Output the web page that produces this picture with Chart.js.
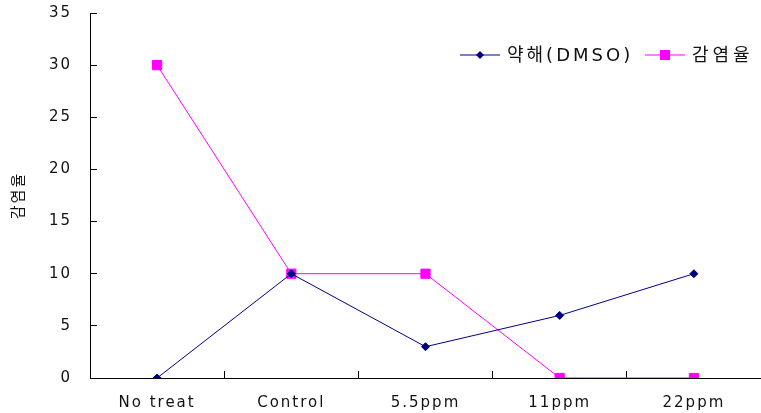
<!DOCTYPE html>
<html>
<head>
<meta charset="utf-8">
<script src="https://cdn.jsdelivr.net/npm/chart.js@4.4.0/dist/chart.umd.min.js"></script>
<style>
  html, body { margin: 0; padding: 0; background: #fff; }
  #wrap { width: 761px; height: 413px; }
</style>
</head>
<body>
<div id="wrap"><canvas id="myChart" width="761" height="413"></canvas></div>
<script>
const categories = ['No treat', 'Control', '5.5ppm', '11ppm', '22ppm'];
const dmsoValues = [0, 10, 3, 6, 10];
const infectionValues = [30, 10, 10, 0, 0];
const seriesNames = ['약해(DMSO)', '감염율'];
const yTitle = '감염율';

const FONT = "'DejaVu Sans', 'Noto Sans CJK KR', sans-serif";
const NAVY = '#000080';
const MAGENTA = '#ff00ff';

// wide letter spacing like the original gulim-style text
const spacingPlugin = {
    id: 'spacing',
    beforeLayout(chart) { chart.ctx.letterSpacing = '2px'; },
    beforeDraw(chart) { chart.ctx.letterSpacing = '2px'; }
};

// legend drawn inside the plot, top right, line + marker like the original
const legendPlugin = {
    id: 'innerLegend',
    afterDraw(chart) {
        const ctx = chart.ctx;
        const items = [
            { name: seriesNames[0], color: NAVY, style: 'rectRot', x: 460, tx: 507, sp: '3px' },
            { name: seriesNames[1], color: MAGENTA, style: 'rect', x: 645, tx: 692, sp: '4px' }
        ];
        const y = 55;
        ctx.save();
        items.forEach(it => {
            ctx.strokeStyle = it.color;
            ctx.lineWidth = 1;
            ctx.beginPath();
            ctx.moveTo(it.x, y);
            ctx.lineTo(it.x + 40, y);
            ctx.stroke();
            ctx.fillStyle = it.color;
            if (it.style === 'rect') {
                ctx.fillRect(it.x + 15, y - 5, 10, 10);
            } else {
                ctx.beginPath();
                ctx.moveTo(it.x + 20, y - 4);
                ctx.lineTo(it.x + 24, y);
                ctx.lineTo(it.x + 20, y + 4);
                ctx.lineTo(it.x + 16, y);
                ctx.closePath();
                ctx.fill();
            }
            ctx.letterSpacing = it.sp;
            ctx.fillStyle = '#111';
            ctx.font = '18px ' + FONT;
            ctx.textBaseline = 'middle';
            ctx.fillText(it.name, it.tx, y + 1);
        });
        ctx.restore();
    }
};

const ctx = document.getElementById('myChart').getContext('2d');
const chart = new Chart(ctx, {
    type: 'line',
    data: {
        labels: categories,
        datasets: [
            {
                label: seriesNames[0],
                data: dmsoValues,
                borderColor: NAVY,
                backgroundColor: NAVY,
                borderWidth: 1,
                pointStyle: 'rectRot',
                pointRadius: 4,
                pointHoverRadius: 4,
                tension: 0
            },
            {
                label: seriesNames[1],
                data: infectionValues,
                borderColor: MAGENTA,
                backgroundColor: MAGENTA,
                borderWidth: 1,
                pointStyle: 'rect',
                pointRadius: 6.5,
                pointHoverRadius: 6.5,
                tension: 0
            }
        ]
    },
    options: {
        responsive: false,
        animation: false,
        layout: {
            autoPadding: false,
            padding: { top: 13, right: 0, left: 0, bottom: 0 }
        },
        plugins: {
            legend: { display: false },
            tooltip: { enabled: false }
        },
        scales: {
            x: {
                offset: true,
                grid: {
                    offset: true,
                    drawOnChartArea: false,
                    color: '#000',
                    tickLength: -7
                },
                border: { color: '#000', width: 1 },
                ticks: {
                    color: '#111',
                    font: { family: FONT, size: 15 },
                    padding: 23,
                    maxRotation: 0
                },
                afterFit(scale) {
                    scale.height = 35;
                    scale.paddingLeft = 0;
                    scale.paddingRight = 0;
                }
            },
            y: {
                min: 0,
                max: 35,
                ticks: {
                    stepSize: 5,
                    color: '#111',
                    font: { family: FONT, size: 15 },
                    padding: 25
                },
                grid: {
                    drawOnChartArea: false,
                    color: '#000',
                    tickLength: -7
                },
                border: { color: '#000', width: 1 },
                title: {
                    display: true,
                    text: yTitle,
                    color: '#111',
                    font: { family: FONT, size: 15 },
                    padding: { top: 10, bottom: 0 }
                },
                afterFit(scale) {
                    scale.width = 90;
                    scale.paddingTop = 0;
                    scale.paddingBottom = 0;
                }
            }
        }
    },
    plugins: [spacingPlugin, legendPlugin]
});
</script>
</body>
</html>
